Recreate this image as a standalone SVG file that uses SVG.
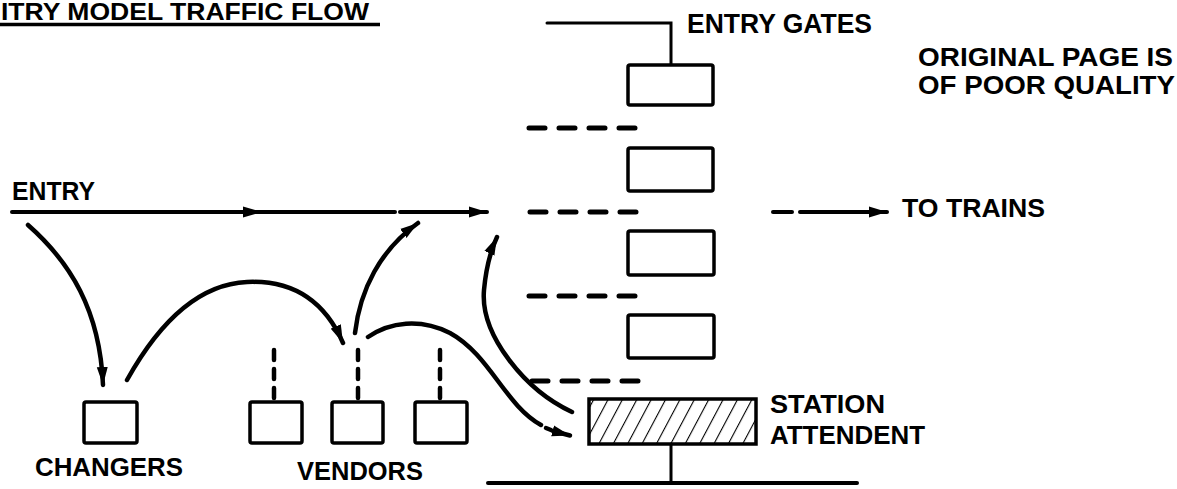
<svg xmlns="http://www.w3.org/2000/svg" width="1177" height="489" viewBox="0 0 1177 489">
<style>
text{font-family:"Liberation Sans",Arial,sans-serif;font-weight:bold;fill:#000}
.box{fill:#fff;stroke:#000;stroke-width:3.5}
.ln{fill:none;stroke:#000;stroke-width:4;stroke-linecap:round}
.thin{fill:none;stroke:#000;stroke-width:3;stroke-linecap:round}
.dash{fill:none;stroke:#000;stroke-width:5;stroke-linecap:round;stroke-dasharray:16 14}
.vdash{fill:none;stroke:#000;stroke-width:4.5;stroke-linecap:round;stroke-dasharray:10 9}
.cv{fill:none;stroke:#000;stroke-width:4.5;stroke-linecap:round}
.note{font-weight:900}
</style>
<defs>
<marker id="ah" markerUnits="userSpaceOnUse" markerWidth="20" markerHeight="12" refX="18" refY="6" orient="auto">
<path d="M0,0.5 L18,6 L0,11.5 z" fill="#000"/>
</marker>
<pattern id="hatch" patternUnits="userSpaceOnUse" width="12.7" height="20" patternTransform="rotate(28)">
<line x1="0" y1="0" x2="0" y2="20" stroke="#000" stroke-width="2.2"/>
</pattern>
</defs>

<g id="title">
<text x="1" y="20" font-size="24" textLength="368" lengthAdjust="spacingAndGlyphs">ITRY MODEL TRAFFIC FLOW</text>
<line x1="0" y1="24.5" x2="380" y2="24.5" stroke="#000" stroke-width="3.5"/>
</g>

<g id="note">
<text class="note" x="918" y="66" font-size="25" textLength="255" lengthAdjust="spacingAndGlyphs">ORIGINAL PAGE IS</text>
<text class="note" x="918" y="94" font-size="25" textLength="257" lengthAdjust="spacingAndGlyphs">OF POOR QUALITY</text>
</g>

<g id="entry-gates">
<path class="thin" d="M547,23 L671,23 L671,65"/>
<text x="687" y="33" font-size="27" textLength="185" lengthAdjust="spacingAndGlyphs">ENTRY GATES</text>
</g>

<g id="gate-1"><rect class="box" x="628" y="65" width="85" height="40" rx="2"/></g>
<g id="gate-2"><rect class="box" x="628" y="148" width="85" height="43" rx="2"/></g>
<g id="gate-3"><rect class="box" x="628" y="231" width="86" height="44" rx="2"/></g>
<g id="gate-4"><rect class="box" x="628" y="315" width="86" height="43" rx="2"/></g>

<g id="gate-dividers">
<line class="dash" x1="529" y1="128" x2="636" y2="128"/>
<line class="dash" x1="530" y1="212" x2="637" y2="212"/>
<line class="dash" x1="529" y1="296" x2="647" y2="296"/>
<line class="dash" x1="532" y1="381" x2="640" y2="381"/>
</g>

<g id="station-attendant">
<rect x="589" y="399" width="167" height="45" fill="url(#hatch)" stroke="#000" stroke-width="3.5"/>
<line class="thin" x1="671" y1="444" x2="671" y2="483"/>
<line class="ln" x1="488" y1="483" x2="857" y2="483"/>
<text x="770" y="413" font-size="26" textLength="115" lengthAdjust="spacingAndGlyphs">STATION</text>
<text x="770" y="444" font-size="26" textLength="155" lengthAdjust="spacingAndGlyphs">ATTENDENT</text>
</g>

<g id="entry">
<text x="12" y="200" font-size="25" textLength="83" lengthAdjust="spacingAndGlyphs">ENTRY</text>
</g>

<g id="to-trains">
<text x="902" y="217" font-size="26" textLength="143" lengthAdjust="spacingAndGlyphs">TO TRAINS</text>
</g>

<g id="changers">
<rect class="box" x="84" y="402" width="53" height="41" rx="2"/>
<text x="35" y="476" font-size="26" textLength="148" lengthAdjust="spacingAndGlyphs">CHANGERS</text>
</g>

<g id="vendors">
<rect class="box" x="250" y="402" width="52" height="41" rx="2"/>
<rect class="box" x="332" y="402" width="51" height="41" rx="2"/>
<rect class="box" x="415" y="402" width="52" height="41" rx="2"/>
<line class="vdash" x1="274" y1="350" x2="274" y2="402"/>
<line class="vdash" x1="358" y1="350" x2="358" y2="402"/>
<line class="vdash" x1="440" y1="350" x2="440" y2="402"/>
<text x="297" y="480" font-size="26" textLength="126" lengthAdjust="spacingAndGlyphs">VENDORS</text>
</g>

<g id="connectors">
<line class="ln" x1="12" y1="212" x2="395" y2="212"/>
<path d="M243,206.5 L262,212 L243,217.5 z" fill="#000"/>
<line class="ln" x1="400" y1="212" x2="487" y2="212" marker-end="url(#ah)"/>
<line class="ln" x1="773" y1="212" x2="792" y2="212"/>
<line class="ln" x1="800" y1="212" x2="887" y2="212" marker-end="url(#ah)"/>
<path class="cv" d="M28,225 C70,262 100,310 103,385" marker-end="url(#ah)"/>
<path class="cv" d="M127,380 Q180,285 247,282 Q315,279 343,343" marker-end="url(#ah)"/>
<path class="cv" d="M355,333 C360,290 380,250 418,223" marker-end="url(#ah)"/>
<path class="cv" d="M572,412 C525,390 480,335 484,290 C486,268 490,252 497,237" marker-end="url(#ah)"/>
<path class="cv" d="M368,337 C390,322 420,318 450,333 C490,355 505,405 541,425"/>
<line class="cv" x1="546" y1="428" x2="551" y2="430"/>
<line class="cv" x1="553" y1="431" x2="570" y2="435.5" marker-end="url(#ah)"/>
</g>
</svg>
